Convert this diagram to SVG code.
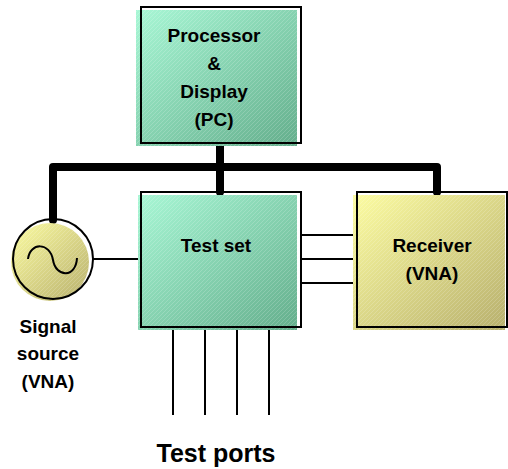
<svg xmlns="http://www.w3.org/2000/svg" width="508" height="469" viewBox="0 0 508 469">
  <defs>
    <linearGradient id="gGreen" x1="0" y1="0" x2="1" y2="1">
      <stop offset="0" stop-color="#a8f7d5"/>
      <stop offset="1" stop-color="#64ae8c"/>
    </linearGradient>
    <linearGradient id="gYellow" x1="0" y1="0" x2="1" y2="1">
      <stop offset="0" stop-color="#fcfca2"/>
      <stop offset="1" stop-color="#b8b06e"/>
    </linearGradient>
    <pattern id="hatch" width="4" height="4" patternUnits="userSpaceOnUse">
      <path d="M-1,1 L1,-1 M0,4 L4,0 M3,5 L5,3" stroke="#ffffff" stroke-opacity="0.22" stroke-width="0.8"/>
    </pattern>
  </defs>
  <style>
    .outline { fill: none; stroke: #000; stroke-width: 2; }
    .bus { fill: none; stroke: #000; stroke-width: 8; stroke-linecap: round; }
    .wire { fill: none; stroke: #000; stroke-width: 2; }
    .lbl { font-family: "Liberation Sans", Arial, sans-serif; font-weight: bold; font-size: 19px; fill: #000; text-anchor: middle; }
  </style>

  <g id="connectors">
    <path class="bus" d="M53,167 H437 M220,143 V192 M53,167 V220 M437,167 V192"/>
    <path class="wire" d="M301,235 H357 M301,259 H357 M301,283 H357 M93,259 H141"/>
    <path class="wire" d="M173,327 V415 M205,327 V415 M237,327 V415 M269,327 V415"/>
  </g>

  <g id="processor">
    <rect x="136" y="10" width="161" height="136" fill="url(#gGreen)"/>
    <rect x="136" y="10" width="161" height="136" fill="url(#hatch)"/>
    <rect class="outline" x="141" y="7" width="160" height="136"/>
    <text class="lbl" x="214" y="42">Processor</text>
    <text class="lbl" x="214" y="70">&amp;</text>
    <text class="lbl" x="214" y="98">Display</text>
    <text class="lbl" x="214" y="126">(PC)</text>
  </g>

  <g id="testset">
    <rect x="138" y="195" width="159" height="135" fill="url(#gGreen)"/>
    <rect x="138" y="195" width="159" height="135" fill="url(#hatch)"/>
    <rect class="outline" x="141" y="192" width="160" height="135"/>
    <text class="lbl" x="216" y="252">Test set</text>
  </g>

  <g id="receiver">
    <rect x="353" y="195" width="152" height="135" fill="url(#gYellow)"/>
    <rect x="353" y="195" width="152" height="135" fill="url(#hatch)"/>
    <rect class="outline" x="357" y="192" width="150" height="135"/>
    <text class="lbl" x="432" y="252">Receiver</text>
    <text class="lbl" x="432" y="280">(VNA)</text>
  </g>

  <g id="source">
    <circle cx="50" cy="262" r="39" fill="url(#gYellow)"/>
    <circle cx="50" cy="262" r="39" fill="url(#hatch)"/>
    <circle class="outline" cx="53" cy="259" r="40"/>
    <path class="wire" d="M28,259 C30,242 50,242 53,260 C56,278 76,278 77,258"/>
    <text class="lbl" x="48" y="333">Signal</text>
    <text class="lbl" x="48" y="360">source</text>
    <text class="lbl" x="48" y="388">(VNA)</text>
  </g>

  <g id="testports">
    <text class="lbl" x="216" y="462" style="font-size:25px">Test ports</text>
  </g>
</svg>
